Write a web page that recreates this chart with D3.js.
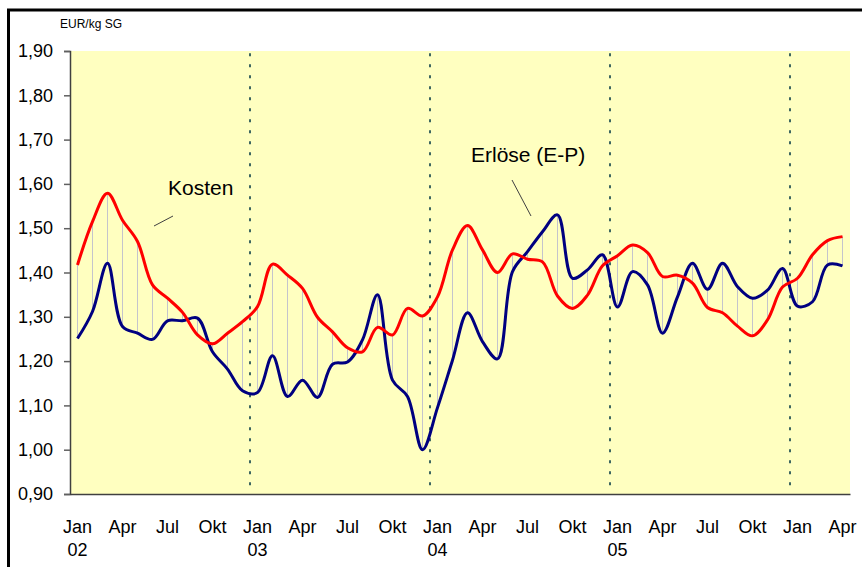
<!DOCTYPE html>
<html>
<head>
<meta charset="utf-8">
<script src="https://cdn.jsdelivr.net/npm/d3@7"></script>
<style>
  body { margin: 0; background: #fff; }
  svg { font-family: "Liberation Sans", Arial, sans-serif; }
</style>
</head>
<body>
<svg id="canvas" width="862" height="567"></svg>
<script>
// monthly values Jan 02 .. Apr 06, EUR/kg SG
let monthNames = ["Jan", "Feb", "Mär", "Apr", "Mai", "Jun", "Jul", "Aug", "Sep", "Okt", "Nov", "Dez"];
let years = ["02", "03", "04", "05", "06"];
let yearLabels = ["02", "03", "04", "05"];

let kosten = [1.417, 1.515, 1.579, 1.518, 1.470, 1.372, 1.342, 1.310, 1.259, 1.239, 1.263, 1.289,
              1.323, 1.419, 1.394, 1.364, 1.299, 1.266, 1.230, 1.221, 1.276, 1.259, 1.319, 1.302,
              1.345, 1.451, 1.506, 1.451, 1.400, 1.442, 1.430, 1.424, 1.347, 1.319, 1.349, 1.415,
              1.438, 1.462, 1.445, 1.391, 1.394, 1.376, 1.321, 1.309, 1.279, 1.257, 1.293, 1.367,
              1.387, 1.440, 1.472, 1.481];

let erloese = [1.251, 1.312, 1.421, 1.278, 1.263, 1.249, 1.291, 1.291, 1.297, 1.221, 1.182, 1.133,
               1.129, 1.212, 1.120, 1.157, 1.118, 1.193, 1.198, 1.248, 1.350, 1.157, 1.120, 1.000,
               1.095, 1.202, 1.309, 1.244, 1.205, 1.402, 1.447, 1.492, 1.530, 1.387, 1.406, 1.440,
               1.322, 1.402, 1.372, 1.263, 1.345, 1.421, 1.362, 1.421, 1.368, 1.342, 1.360, 1.409,
               1.324, 1.334, 1.417, 1.415];

let yTicks = [0.9, 1.0, 1.1, 1.2, 1.3, 1.4, 1.5, 1.6, 1.7, 1.8, 1.9];

let categories = [];
years.forEach((y) => {
    monthNames.forEach((m) => {
        if (categories.length < kosten.length) categories.push(m + " " + y);
    });
});

let canvas = d3.select("#canvas");

let x = d3.scaleBand().domain(categories).range([70, 850]);
let y = d3.scaleLinear().domain([0.9, 1.9]).range([494, 51]);
let cx = (c) => x(c) + x.bandwidth() / 2;

// outer frame
canvas.append("rect")
    .attr("x", 8.5).attr("y", 10)
    .attr("width", 900).attr("height", 600)
    .attr("fill", "none").attr("stroke", "#000").attr("stroke-width", 3);

canvas.append("text")
    .attr("x", 60).attr("y", 28)
    .attr("font-size", 12)
    .text("EUR/kg SG");

// plot area
canvas.append("rect")
    .attr("x", 70).attr("y", y(1.9))
    .attr("width", 780).attr("height", y(0.9) - y(1.9))
    .attr("fill", "#ffffc0");

// year separators
categories.forEach((c, i) => {
    if (i > 0 && c.startsWith("Jan")) {
        canvas.append("line")
            .attr("x1", x(c)).attr("x2", x(c))
            .attr("y1", y(1.895)).attr("y2", y(0.91))
            .attr("stroke", "#3d6660").attr("stroke-width", 2)
            .attr("stroke-dasharray", "3,8");
    }
});

// high-low lines
canvas.selectAll(".hilo")
    .data(categories)
    .enter()
    .append("line")
    .attr("class", "hilo")
    .attr("x1", (c) => cx(c)).attr("x2", (c) => cx(c))
    .attr("y1", (c, i) => y(kosten[i]))
    .attr("y2", (c, i) => y(erloese[i]))
    .attr("stroke", "#c4c4cc").attr("stroke-width", 1);

let line = d3.line()
    .x((d, i) => cx(categories[i]))
    .y((d) => y(d))
    .curve(d3.curveCatmullRom);

canvas.append("path")
    .attr("d", line(erloese))
    .attr("fill", "none").attr("stroke", "#000080").attr("stroke-width", 3);

canvas.append("path")
    .attr("d", line(kosten))
    .attr("fill", "none").attr("stroke", "#ff0000").attr("stroke-width", 3);

// axes
let yAxis = d3.axisLeft(y)
    .tickValues(yTicks)
    .tickSize(6)
    .tickPadding(11)
    .tickFormat((d) => d3.format(".2f")(d).replace(".", ","));

let gy = canvas.append("g").attr("transform", "translate(70,0)").call(yAxis);
gy.select(".domain").attr("stroke", "#404040").attr("stroke-width", 1.5);
gy.selectAll(".tick line").attr("stroke", "#606060").attr("stroke-width", 1.5);
gy.selectAll("text").attr("font-size", 18).attr("fill", "#000")
    .attr("font-family", "Liberation Sans, Arial, sans-serif");

let xAxis = d3.axisBottom(x)
    .tickValues(categories.filter((c, i) => i % 3 === 0))
    .tickSize(0)
    .tickPadding(26)
    .tickFormat((c) => c.split(" ")[0]);

let gx = canvas.append("g").attr("transform", "translate(0,494)").call(xAxis);
gx.select(".domain").attr("stroke", "#404040").attr("stroke-width", 1.5);
gx.selectAll("text").attr("font-size", 18).attr("fill", "#000")
    .attr("font-family", "Liberation Sans, Arial, sans-serif");

canvas.selectAll(".year")
    .data(yearLabels)
    .enter()
    .append("text")
    .attr("class", "year")
    .attr("x", (d) => cx("Jan " + d))
    .attr("y", 556)
    .attr("text-anchor", "middle")
    .attr("font-size", 18)
    .text((d) => d);

// series labels
canvas.append("text")
    .attr("x", 168).attr("y", 195)
    .attr("font-size", 21)
    .text("Kosten");
canvas.append("line")
    .attr("x1", 154).attr("y1", 226).attr("x2", 173).attr("y2", 216)
    .attr("stroke", "#404040").attr("stroke-width", 1);

canvas.append("text")
    .attr("x", 471).attr("y", 162)
    .attr("font-size", 21)
    .text("Erlöse (E-P)");
canvas.append("line")
    .attr("x1", 512).attr("y1", 180).attr("x2", 531).attr("y2", 216)
    .attr("stroke", "#404040").attr("stroke-width", 1);
</script>
</body>
</html>
